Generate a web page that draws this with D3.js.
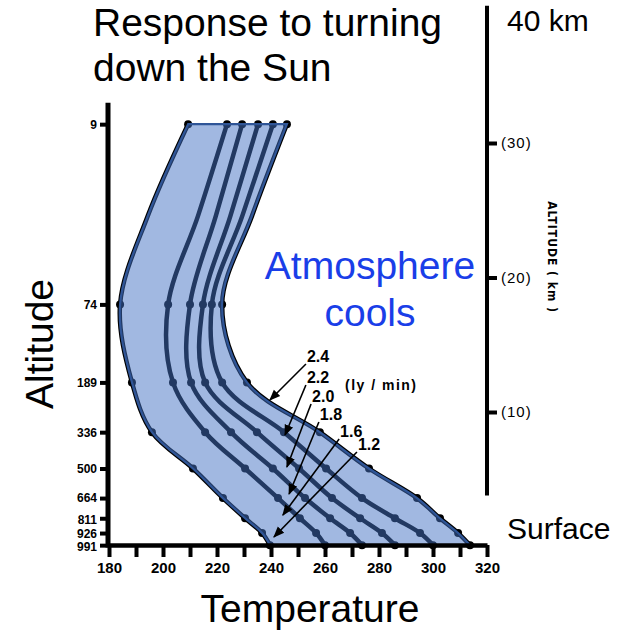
<!DOCTYPE html>
<html>
<head>
<meta charset="utf-8">
<script src="https://cdn.jsdelivr.net/npm/d3@7"></script>
<style>
  body { margin: 0; background: #fff; }
  svg text { font-family: "Liberation Sans", Arial, sans-serif; }
  .axis path, .axis line { stroke: #000; }
  .axis text { fill: #000; font-weight: bold; font-size: 15px; }
</style>
</head>
<body>
<svg id="chart" width="620" height="632"></svg>
<script>
"use strict";

// Pressure levels (mb) on the left axis and the altitude (km) they sit at
let levelPressure = [9, 74, 189, 336, 500, 664, 811, 926, 991];
let levelAltitude = [31.4, 18.0, 12.2, 8.5, 5.8, 3.6, 2.1, 1.0, 0.1];

// Altitudes where the curves are sampled (one extra point at 24.6 km, no dot)
let curveAltitude = [31.4, 24.6, 18.0, 12.2, 8.5, 5.8, 3.6, 2.1, 1.0, 0.1];

// Temperature (K) for each solar flux (ly/min)
let flux12 = [209.3, 194.4, 184.1, 188.5, 195.9, 211.1, 222.2, 230.4, 236.7, 239.6];
let flux16 = [223.7, 213.0, 201.9, 203.7, 215.6, 230.4, 242.6, 250.7, 256.7, 260.0];
let flux18 = [229.3, 219.6, 210.0, 210.4, 225.2, 240.7, 252.6, 261.9, 269.3, 273.7];
let flux20 = [235.2, 225.0, 214.8, 215.6, 234.8, 250.4, 262.6, 273.0, 281.1, 285.9];
let flux22 = [240.7, 229.4, 218.1, 221.9, 244.8, 260.4, 273.7, 285.9, 295.2, 300.0];
let flux24 = [245.9, 233.0, 221.9, 231.1, 258.1, 276.3, 294.1, 302.6, 309.3, 313.7];

let fluxNames = ['2.4', '2.2', '2.0', '1.8', '1.6', '1.2'];
let fluxSeries = [flux24, flux22, flux20, flux18, flux16, flux12];

// Flux label anchors and arrow tips, in (K, km)
let labelTemp = [253.3, 253.3, 255.2, 258.1, 265.6, 272.2];
let labelAlt = [13.72, 12.16, 10.74, 9.41, 8.14, 7.17];
let arrowTemp = [239.6, 245.2, 245.9, 246.7, 244.4, 241.1];
let arrowAlt = [10.89, 8.29, 5.91, 3.90, 2.34, 0.71];

let tempTicks = [180, 190, 200, 210, 220, 230, 240, 250, 260, 270, 280, 290, 300, 310, 320];
let tempLabels = [180, 200, 220, 240, 260, 280, 300, 320];
let kmTicks = [10, 20, 30];

let svg = d3.select('#chart');

let x = d3.scaleLinear().domain([180, 320]).range([109, 487]);
let y = d3.scaleLinear().domain([0, 40]).range([546.5, 8.5]);

let points = series => series.map((t, i) => ({t: t, alt: curveAltitude[i]}));

// Black temperature curves with dots at the pressure levels
let line = d3.line()
  .x(d => x(d.t))
  .y(d => y(d.alt))
  .curve(d3.curveCatmullRom);

let curvesG = svg.append('g').attr('class', 'curves');
curvesG.selectAll('path')
  .data(fluxSeries)
  .enter().append('path')
    .attr('d', s => line(points(s)))
    .style('fill', 'none')
    .style('stroke', '#000')
    .style('stroke-width', 4.5);

curvesG.selectAll('g.dots')
  .data(fluxSeries)
  .enter().append('g')
    .attr('class', 'dots')
  .selectAll('circle')
  .data(s => points(s).filter(p => levelAltitude.includes(p.alt)))
  .enter().append('circle')
    .attr('cx', p => x(p.t))
    .attr('cy', p => y(p.alt))
    .attr('r', 4)
    .style('fill', '#000');

// Blue band from the 1.2 curve to the 2.4 curve
let area = d3.area()
  .y(d => y(d.alt))
  .x0(d => x(d.lo))
  .x1(d => x(d.hi))
  .curve(d3.curveCatmullRom);

svg.append('path')
  .datum(curveAltitude.map((alt, i) => ({alt: alt, lo: flux12[i], hi: flux24[i]})))
  .attr('d', area)
  .style('fill', '#4472C4')
  .style('fill-opacity', 0.5)
  .style('stroke', '#2F5597')
  .style('stroke-width', 2.2);

// Flux labels with arrows
svg.append('defs').append('marker')
  .attr('id', 'head')
  .attr('viewBox', '0 0 10 10')
  .attr('refX', 9).attr('refY', 5)
  .attr('markerWidth', 7).attr('markerHeight', 7)
  .attr('orient', 'auto')
  .append('path')
    .attr('d', 'M0,1 L10,5 L0,9 Z')
    .style('fill', '#000');

let labelG = svg.append('g').attr('class', 'flux-labels');
fluxNames.forEach((name, i) => {
  let lx = x(labelTemp[i]);
  let ly = y(labelAlt[i]);
  labelG.append('line')
    .attr('x1', lx - 1).attr('y1', ly + 2)
    .attr('x2', x(arrowTemp[i])).attr('y2', y(arrowAlt[i]))
    .style('stroke', '#000')
    .style('stroke-width', 1.6)
    .attr('marker-end', 'url(#head)');
  labelG.append('text')
    .attr('x', lx).attr('y', ly)
    .style('font-size', '16px')
    .style('font-weight', 'bold')
    .text(name);
});
labelG.append('text')
  .attr('x', x(267.4)).attr('y', y(11.6))
  .style('font-size', '14px')
  .style('font-weight', 'bold')
  .style('letter-spacing', '1.5px')
  .text('(ly / min)');

// Axes
let bottomAxis = svg.append('g')
  .attr('class', 'axis')
  .attr('transform', `translate(0,${y(0) - 1.5})`)
  .call(d3.axisBottom(x)
    .tickValues(tempTicks)
    .tickSize(12)
    .tickSizeOuter(0)
    .tickPadding(5)
    .tickFormat(d => tempLabels.includes(d) ? d : ''));
bottomAxis.select('.domain').style('stroke-width', 4.5);
bottomAxis.selectAll('.tick line').style('stroke-width', 4);

let leftAxis = svg.append('g')
  .attr('class', 'axis')
  .attr('transform', 'translate(108,0)')
  .call(d3.axisLeft(y)
    .tickValues(levelAltitude)
    .tickSize(8)
    .tickPadding(3)
    .tickFormat((d, i) => levelPressure[i]));
leftAxis.select('.domain').remove();
leftAxis.selectAll('.tick line').style('stroke-width', 4);
leftAxis.selectAll('.tick text').style('font-size', '12px');
// the bottom three labels are packed tight; spread them a little
let labelShift = {811: '0.475em', 926: '0.375em', 991: '0.475em'};
leftAxis.selectAll('.tick text')
  .filter((d, i) => labelShift[levelPressure[i]])
  .attr('dy', (d, i, nodes) => labelShift[nodes[i].textContent]);
leftAxis.append('line')
  .attr('y1', y(33)).attr('y2', y(0) + 1)
  .style('stroke', '#000')
  .style('stroke-width', 5);

let rightAxis = svg.append('g')
  .attr('class', 'axis')
  .attr('transform', 'translate(487,0)')
  .call(d3.axisRight(y)
    .tickValues(kmTicks)
    .tickSize(10)
    .tickPadding(4)
    .tickFormat(d => `(${d})`));
rightAxis.select('.domain').remove();
rightAxis.selectAll('.tick line').style('stroke-width', 4);
rightAxis.selectAll('.tick text')
  .style('font-weight', 'normal')
  .style('font-size', '15px')
  .style('letter-spacing', '1px');
rightAxis.append('line')
  .attr('y1', y(40.2)).attr('y2', y(3.8))
  .style('stroke', '#000')
  .style('stroke-width', 4);

svg.append('text')
  .attr('transform', 'translate(548,257) rotate(90)')
  .attr('text-anchor', 'middle')
  .style('font-family', '"Liberation Sans Narrow", "DejaVu Sans Condensed", sans-serif')
  .style('font-weight', 'bold')
  .style('font-size', '12px')
  .style('letter-spacing', '1px')
  .text('ALTITUDE ( km )');

// Slide text
svg.append('text')
  .attr('x', 93).attr('y', 36)
  .style('font-size', '39px')
  .text('Response to turning');
svg.append('text')
  .attr('x', 93).attr('y', 81)
  .style('font-size', '39px')
  .text('down the Sun');
svg.append('text')
  .attr('x', 507).attr('y', 31)
  .style('font-size', '30px')
  .text('40 km');
svg.append('text')
  .attr('x', 507).attr('y', 539)
  .style('font-size', '30px')
  .text('Surface');
svg.append('text')
  .attr('x', 370).attr('y', 279)
  .attr('text-anchor', 'middle')
  .style('font-size', '39px')
  .style('fill', '#1a3ee8')
  .text('Atmosphere');
svg.append('text')
  .attr('x', 370).attr('y', 326)
  .attr('text-anchor', 'middle')
  .style('font-size', '39px')
  .style('fill', '#1a3ee8')
  .text('cools');
svg.append('text')
  .attr('transform', 'translate(53,344) rotate(-90)')
  .attr('text-anchor', 'middle')
  .style('font-size', '39px')
  .text('Altitude');
svg.append('text')
  .attr('x', 310).attr('y', 622)
  .attr('text-anchor', 'middle')
  .style('font-size', '39px')
  .text('Temperature');
</script>
</body>
</html>
